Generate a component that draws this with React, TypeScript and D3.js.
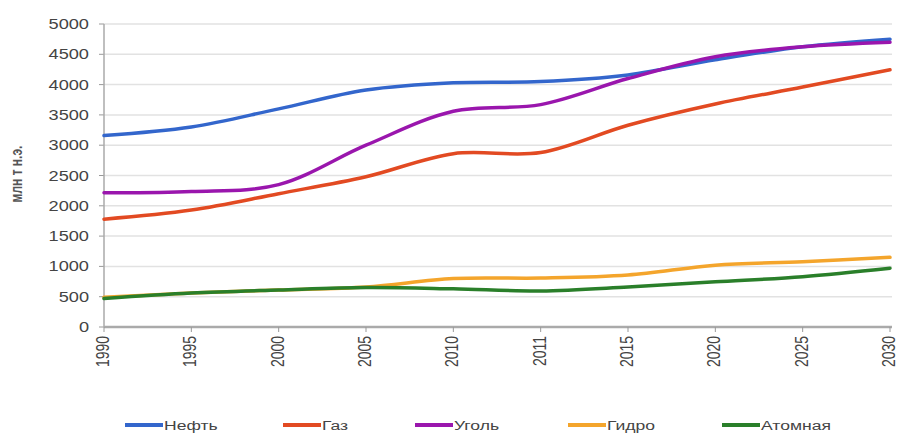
import React from "react";
import * as d3 from "d3";

const years = ["1990", "1995", "2000", "2005", "2010", "2011", "2015", "2020", "2025", "2030"];
const oil = [3160, 3300, 3600, 3910, 4030, 4050, 4160, 4410, 4625, 4750];
const gas = [1780, 1930, 2200, 2480, 2860, 2880, 3330, 3680, 3960, 4245];
const coal = [2215, 2235, 2350, 3000, 3560, 3670, 4100, 4460, 4625, 4700];
const hydro = [490, 560, 610, 660, 800, 808, 858, 1020, 1078, 1150];
const nuclear = [470, 560, 610, 650, 630, 595, 660, 745, 830, 970];
const yTicks = [0, 500, 1000, 1500, 2000, 2500, 3000, 3500, 4000, 4500, 5000];
const seriesNames = ["Нефть", "Газ", "Уголь", "Гидро", "Атомная"];
const seriesColors = ["#3366cc", "#e24a22", "#9a16ad", "#f4a52c", "#2a7f2a"];
const seriesValues = [oil, gas, coal, hydro, nuclear];

export default function App() {
  const W = 897, H = 437;
  const left = 104, right = 890, top = 24, bottom = 327;
  const x = d3.scalePoint<string>().domain(years).range([left, right]);
  const y = d3.scaleLinear().domain([0, 5000]).range([bottom, top]);
  const line = d3
    .line<number>()
    .x((_, i) => x(years[i]) as number)
    .y((d) => y(d))
    .curve(d3.curveCatmullRom.alpha(0.5));
  const sx = 1.3;
  const font = "'Liberation Sans', Arial, sans-serif";
  const legendX = [125, 283, 415, 568, 722];
  const legendY = 425;
  return (
    <svg width={W} height={H} style={{ position: "absolute", left: 0, top: 0, background: "#fff" }}>
      {yTicks.map((t) => (
        <g key={t}>
          {t > 0 && <line x1={left} x2={right + 2} y1={y(t)} y2={y(t)} stroke="#e2e2e2" strokeWidth={1.5} />}
          <line x1={left - 5} x2={left} y1={y(t)} y2={y(t)} stroke="#999" strokeWidth={1} />
          <text
            transform={`translate(${left - 15},${y(t) + 5}) scale(${sx},1)`}
            textAnchor="end"
            fontFamily={font}
            fontSize={14}
            fill="#444"
          >
            {t}
          </text>
        </g>
      ))}
      <line x1={left} x2={left} y1={top} y2={bottom} stroke="#aaa" strokeWidth={1.5} />
      <line x1={left} x2={right + 2} y1={bottom} y2={bottom} stroke="#aaa" strokeWidth={2.5} />
      {years.map((yr) => (
        <g key={yr}>
          <line x1={x(yr)} x2={x(yr)} y1={bottom} y2={bottom + 5} stroke="#999" strokeWidth={1} />
          <text
            transform={`translate(${(x(yr) as number) + 5},${bottom + 9}) scale(${sx},1) rotate(-90)`}
            textAnchor="end"
            fontFamily={font}
            fontSize={14}
            fill="#444"
          >
            {yr}
          </text>
        </g>
      ))}
      <text
        transform={`translate(22,174) scale(${sx},1) rotate(-90)`}
        textAnchor="middle"
        fontFamily={font}
        fontSize={12}
        fontWeight="bold"
        fill="#555"
      >
        млн т н.э.
      </text>
      {seriesValues.map((vals, i) => (
        <path key={i} d={line(vals) || ""} fill="none" stroke={seriesColors[i]} strokeWidth={3.5} strokeLinecap="round" />
      ))}
      {seriesNames.map((n, i) => (
        <g key={n}>
          <line x1={legendX[i]} x2={legendX[i] + 38} y1={legendY} y2={legendY} stroke={seriesColors[i]} strokeWidth={4} />
          <text
            transform={`translate(${legendX[i] + 39},${legendY + 5}) scale(${sx},1)`}
            fontFamily={font}
            fontSize={13.5}
            fill="#444"
          >
            {n}
          </text>
        </g>
      ))}
    </svg>
  );
}
